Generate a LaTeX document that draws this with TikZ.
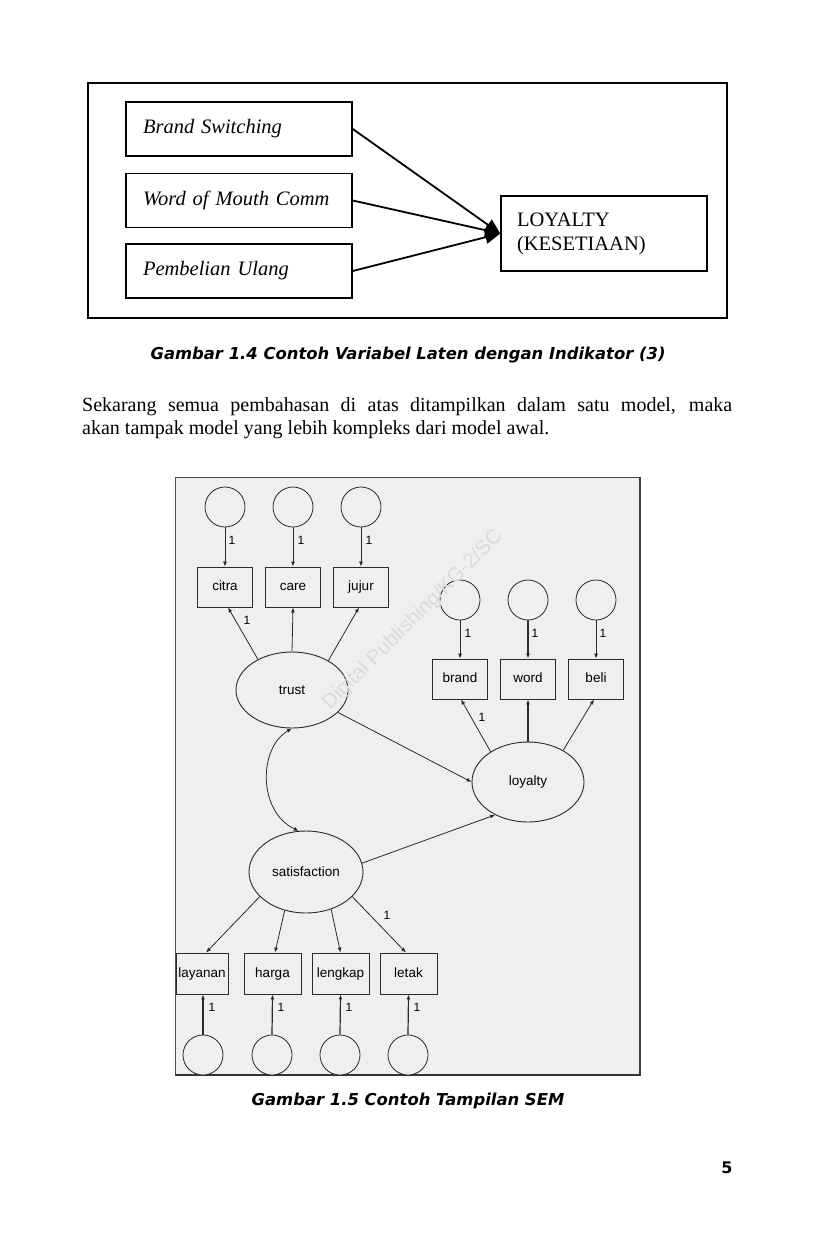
\documentclass[tikz,border=0pt]{standalone}
\usepackage{fontspec}
\setmainfont{Liberation Serif}
\newfontfamily\semfont{Liberation Sans}
\newfontfamily\capfont{DejaVu Sans}
\usetikzlibrary{arrows.meta,shapes.geometric}
\definecolor{sembg}{HTML}{EFEFEF}
\definecolor{semline}{HTML}{2A2A2A}
\begin{document}
\begin{tikzpicture}[x=1pt,y=-1pt,
  tbox/.style={draw,line width=1.6pt,minimum height=54pt,text width=192pt,inner xsep=17pt,inner ysep=0pt,align=left,font=\fontsize{20.5}{24}\selectfont\itshape},
  lbox/.style={draw,line width=1.6pt,minimum height=75pt,text width=174pt,inner xsep=16pt,inner ysep=0pt,align=left,font=\fontsize{20.5}{24}\selectfont},
  bigarr/.style={line width=1.8pt,-{Triangle[length=15pt,width=13pt]}},
  obs/.style={draw=semline,fill=sembg,line width=0.9pt,minimum height=40pt,minimum width=55pt,inner sep=0pt,text height=10pt,text depth=3pt,font=\semfont\fontsize{13.5}{16}\selectfont},
  err/.style={circle,draw=semline,fill=sembg,line width=0.8pt,minimum size=40pt,inner sep=0pt},
  lat/.style={ellipse,draw=semline,fill=sembg,line width=0.9pt,inner sep=0pt,font=\semfont\fontsize{13.5}{16}\selectfont},
  arr/.style={draw=semline,line width=0.8pt,-{Latex[length=5pt,width=4pt]}},
  one/.style={font=\semfont\fontsize{12}{14}\selectfont,inner sep=0pt},
  capstyle/.style={font=\capfont\fontsize{16.4}{19}\selectfont\bfseries\itshape}]
\useasboundingbox (0,0) rectangle (827,1240);
\fill[white] (0,0) rectangle (827,1240);

% ---------- Figure 1.4 ----------
\draw[line width=1.5pt] (88,83) rectangle (727,318);
\node[tbox] (bs) at (239,129) {Brand Switching};
\node[tbox] (wm) at (239,200.5) {Word of Mouth Comm};
\node[tbox] (pu) at (239,271) {Pembelian Ulang};
\node[lbox] (loy) at (604,233.5) {LOYALTY\\(KESETIAAN)};
\draw[bigarr] (bs.east) -- (loy.west);
\draw[bigarr] (wm.east) -- (loy.west);
\draw[bigarr] (pu.east) -- (loy.west);

\node[capstyle] (cap1) at (408,355) {Gambar 1.4 Contoh Variabel Laten dengan Indikator (3)};

\node[text width=650pt,align=justify,inner sep=0pt,anchor=north west,font=\fontsize{20}{23}\selectfont] (para) at (82,397)
 {Sekarang semua pembahasan di atas ditampilkan dalam satu model, maka\linebreak akan tampak model yang lebih kompleks dari model awal.};

% ---------- Figure 1.5 ----------
\filldraw[fill=sembg,draw=gray!60!black,line width=1pt] (175,477) rectangle (640,1075);
\draw[line width=2pt,black!75] (640,477) -- (640,1075);
\draw[line width=1.2pt,black!80] (175,1075) -- (641,1075);

% trust group
\node[err] (e1) at (225,507) {};
\node[err] (e2) at (293,507) {};
\node[err] (e3) at (361,507) {};
\node[obs] (citra) at (225,587) {citra};
\node[obs] (care) at (293,587) {care};
\node[obs] (jujur) at (361,587) {jujur};
\node[lat,minimum width=112pt,minimum height=76pt] (trust) at (292,690) {trust};
\draw[arr] (e1.south) -- (citra.north);
\draw[arr] (e2.south) -- (care.north);
\draw[arr] (e3.south) -- (jujur.north);
\node[one] (l1) at (232,540) {1};
\node[one] (l2) at (301,540) {1};
\node[one] (l3) at (369,540) {1};
\draw[arr] (trust.138) -- ([xshift=3pt]citra.south);
\draw[arr] (trust.north) -- (care.south);
\draw[arr] (trust.39) -- ([xshift=-2pt]jujur.south);
\node[one] (l4) at (247,620) {1};

% loyalty group
\node[err] (e4) at (460,600) {};
\node[err] (e5) at (528,600) {};
\node[err] (e6) at (596,600) {};
\node[obs] (brand) at (460,679) {brand};
\node[obs] (word) at (528,679) {word};
\node[obs] (beli) at (596,679) {beli};
\node[lat,minimum width=112pt,minimum height=80pt] (loyal) at (528,782) {loyalty};
\draw[arr] (e4.south) -- (brand.north);
\draw[arr,line width=1.3pt] (e5.south) -- (word.north);
\draw[arr] (e6.south) -- (beli.north);
\node[one] (l5) at (468,633) {1};
\node[one] (l6) at (535,633) {1};
\node[one] (l7) at (603,633) {1};
\draw[arr] (loyal.141) -- ([xshift=1pt]brand.south);
\draw[arr,line width=1.6pt] (loyal.north) -- (word.south);
\draw[arr] (loyal.42) -- ([xshift=-2pt]beli.south);
\node[one] (l8) at (482,717) {1};

% satisfaction group
\node[lat,minimum width=114pt,minimum height=82pt] (sat) at (306,872) {satisfaction};
\node[obs,minimum width=52pt,minimum height=41pt] (lay) at (202,973.5) {layanan};
\node[obs,minimum width=57pt,minimum height=41pt] (har) at (272.5,973.5) {harga};
\node[obs,minimum width=57pt,minimum height=41pt] (len) at (340.5,973.5) {lengkap};
\node[obs,minimum width=57pt,minimum height=41pt] (let) at (408.5,973.5) {letak};
\draw[arr] (sat.208) -- ([xshift=4pt]lay.north);
\draw[arr] (sat.241) -- ([xshift=2.5pt]har.north);
\draw[arr] (sat.304) -- (len.north);
\draw[arr] (sat.332) -- ([xshift=-2.5pt]let.north);
\node[one] (l9) at (387,915) {1};

\node[err] (e7) at (203,1055) {};
\node[err] (e8) at (272,1055) {};
\node[err] (e9) at (340,1055) {};
\node[err] (e10) at (408,1055) {};
\draw[arr,line width=1.2pt] (e7.north) -- ([xshift=1pt]lay.south);
\draw[arr,line width=1.2pt] (e8.north) -- (har.south);
\draw[arr,line width=1.2pt] (e9.north) -- (len.south);
\draw[arr,line width=1.2pt] (e10.north) -- (let.south);
\node[one] (l10) at (212,1007) {1};
\node[one] (l11) at (281,1007) {1};
\node[one] (l12) at (349,1007) {1};
\node[one] (l13) at (417,1007) {1};

% structural paths
\draw[draw=semline,line width=0.8pt,{Latex[length=5pt,width=4pt]}-{Latex[length=5pt,width=4pt]}]
  (trust.south) .. controls (258,748) and (258,812) .. (sat.100);
\draw[arr] (trust.-26) -- (loyal.west);
\draw[arr] (sat.9) -- (loyal.225);

% watermark
\node[rotate=45,text=gray!28,font=\semfont\fontsize{20.5}{24}\selectfont] (wmk) at (413,620) {Digital Publishing/KG-2/SC};

\node[capstyle] (cap2) at (408,1101) {Gambar 1.5 Contoh Tampilan SEM};
\node[font=\capfont\fontsize{16}{18}\selectfont\bfseries] (pg) at (727,1168) {5};
\end{tikzpicture}
\end{document}
